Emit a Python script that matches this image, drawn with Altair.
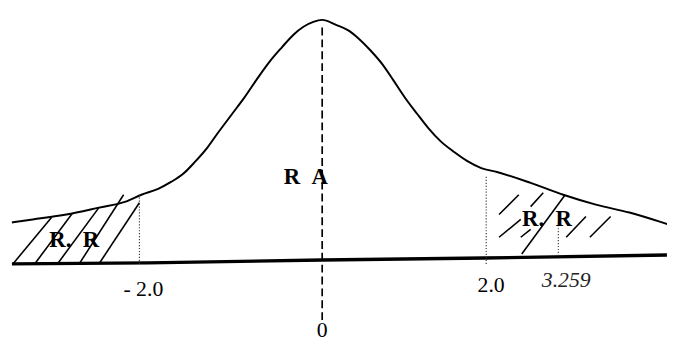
import altair as alt
import pandas as pd

# ---- data (t-units on x, density-like height on y) ----
curve_t = [-3.395, -3.168, -2.800, -2.443, -2.151, -1.978, -1.795, -1.654, -1.524, -1.395,
           -1.254, -1.146, -0.984, -0.854, -0.714, -0.573, -0.443, -0.314, -0.205, -0.097,
           0.0, 0.169, 0.313, 0.446, 0.590, 0.735, 0.867, 1.012, 1.157, 1.289, 1.446, 1.614,
           1.771, 1.940, 2.190, 2.776, 3.345, 3.914, 4.500, 5.069, 5.241]
curve_h = [0.0653, 0.0702, 0.0784, 0.0898, 0.0996, 0.1110, 0.1208, 0.1322, 0.1453, 0.1649,
           0.1894, 0.2122, 0.2449, 0.2710, 0.3020, 0.3314, 0.3543, 0.3755, 0.3886, 0.3967,
           0.4000, 0.3918, 0.3830, 0.3690, 0.3494, 0.3265, 0.3004, 0.2710, 0.2449, 0.2220, 0.1992, 0.1812,
           0.1665, 0.1551, 0.1486, 0.1306, 0.1110, 0.0947, 0.0816, 0.0653, 0.0600]

base_t = [-3.395, -1.903, 0.0, 1.976, 5.155]
base_h = [-0.0033, -0.0016, 0.0033, 0.0065, 0.0114]

# hatching of the rejection regions (segment start / end)
hatch_t0 = [-3.384, -3.146, -2.897, -2.659, -2.443, 2.224, 2.224, 2.776, 2.621, 3.397, 3.810, 2.603]
hatch_h0 = [-0.0033, -0.0033, -0.0033, -0.0033, -0.0033, 0.0784, 0.0408, 0.0914, 0.0131, 0.0408, 0.0408, 0.0408]
hatch_t1 = [-2.962, -2.735, -2.443, -2.173, -2.000, 2.569, 2.603, 2.996, 3.379, 3.741, 4.172, 2.776]
hatch_h1 = [0.0735, 0.0800, 0.0898, 0.1110, 0.0979, 0.1110, 0.0702, 0.1143, 0.1110, 0.0751, 0.0751, 0.0539]

# dotted critical-value lines
crit_t = [-2.0, 2.0, 3.259]
crit_h0 = [-0.0033, -0.0033, 0.0098]
crit_h1 = [0.1110, 0.1437, 0.0669]

# dashed centre line
center_t = [0.0]
center_h0 = [-0.0960]
center_h1 = [0.3935]

# tick labels
tick_labels = ["- 2.0", "2.0", "0"]
tick_t = [-1.957, 2.086, 0.0]
tick_h = [-0.0555, -0.049, -0.1240]
stat_label = ["3.259"]
stat_t = [3.397]
stat_h = [-0.0408]

# region labels (non-breaking spaces keep the wide gaps)
region_labels = ["R\u00a0\u00a0A", "R.\u00a0\u00a0R", "R.\u00a0\u00a0R"]
region_t = [-0.178, -2.714, 3.060]
region_h = [0.129, 0.0245, 0.0588]

# ---- scales ----
xs = alt.Scale(domain=[-2.0, 0.0, 2.0, 3.259], range=[133, 318, 484, 557], nice=False, zero=False)
ys = alt.Scale(domain=[0.0, 0.4], range=[255, 10], nice=False, zero=False)
X = lambda f: alt.X(f, type="quantitative", scale=xs, axis=None)
Y = lambda f: alt.Y(f, type="quantitative", scale=ys, axis=None)

curve = alt.Chart(pd.DataFrame({"t": curve_t, "h": curve_h})).mark_line(
    color="black", strokeWidth=2, interpolate="monotone"
).encode(x=X("t"), y=Y("h"), order="t:Q")

baseline = alt.Chart(pd.DataFrame({"t": base_t, "h": base_h})).mark_line(
    color="black", strokeWidth=3.4
).encode(x=X("t"), y=Y("h"))

hatch = alt.Chart(pd.DataFrame({"t0": hatch_t0, "h0": hatch_h0, "t1": hatch_t1, "h1": hatch_h1})).mark_rule(
    color="black", strokeWidth=1.6
).encode(x=X("t0"), y=Y("h0"), x2="t1", y2="h1")

crit = alt.Chart(pd.DataFrame({"t": crit_t, "h0": crit_h0, "h1": crit_h1})).mark_rule(
    color="#333333", strokeWidth=1.1, strokeDash=[1.2, 1.8]
).encode(x=X("t"), y=Y("h0"), y2="h1")

center = alt.Chart(pd.DataFrame({"t": center_t, "h0": center_h0, "h1": center_h1})).mark_rule(
    color="black", strokeWidth=1.7, strokeDash=[8, 4]
).encode(x=X("t"), y=Y("h0"), y2="h1")

ticks = alt.Chart(pd.DataFrame({"t": tick_t, "h": tick_h, "lab": tick_labels})).mark_text(
    font="Liberation Serif", fontSize=22, color="black", baseline="alphabetic", align="center"
).encode(x=X("t"), y=Y("h"), text="lab:N")

stat = alt.Chart(pd.DataFrame({"t": stat_t, "h": stat_h, "lab": stat_label})).mark_text(
    font="Liberation Serif", fontSize=22, fontStyle="italic", color="#222222",
    baseline="alphabetic", align="center"
).encode(x=X("t"), y=Y("h"), text="lab:N")

regions = alt.Chart(pd.DataFrame({"t": region_t, "h": region_h, "lab": region_labels})).mark_text(
    font="Liberation Serif", fontSize=23, fontWeight="bold", color="black",
    baseline="alphabetic", align="center"
).encode(x=X("t"), y=Y("h"), text="lab:N")

chart = alt.layer(curve, baseline, hatch, crit, center, ticks, stat, regions).properties(
    width=667, height=334, padding=0,
    autosize=alt.AutoSizeParams(type="none"),
    background="white",
).configure_view(stroke=None)

chart.save("out.html", embed_options={"renderer": "svg", "actions": False})
